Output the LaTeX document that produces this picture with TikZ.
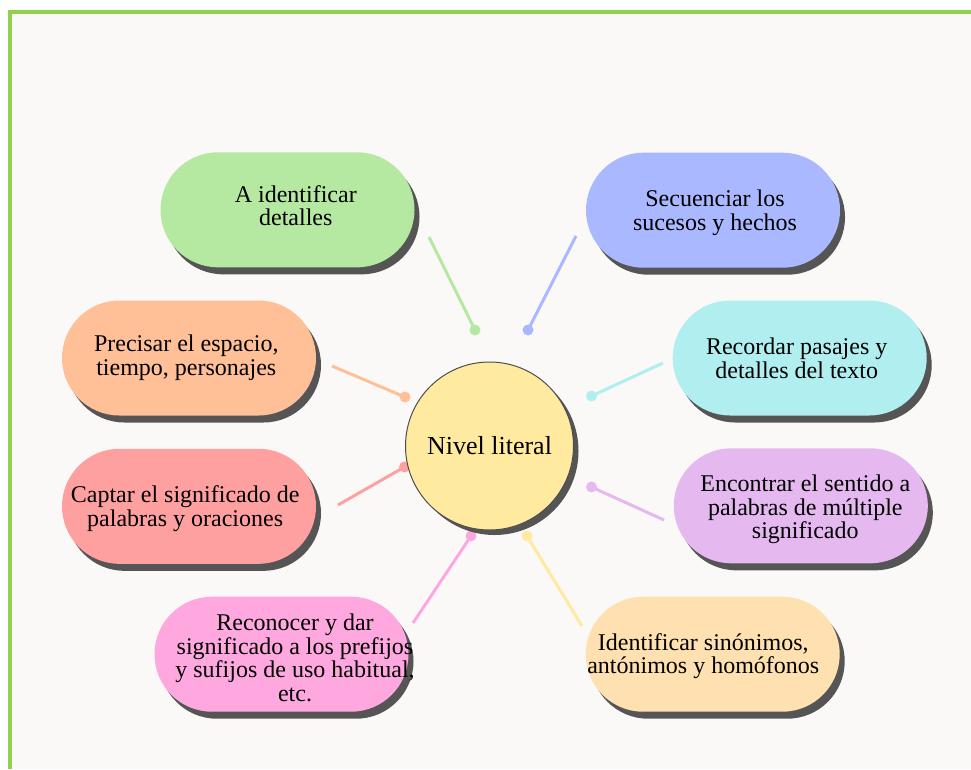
\documentclass[tikz,border=0pt]{standalone}
\usepackage{fontspec}
\setmainfont{Liberation Serif}
\usetikzlibrary{shadows}
\definecolor{bgc}{HTML}{FAF9F8}
\definecolor{framec}{HTML}{92D050}
\definecolor{shadowc}{HTML}{555555}
\definecolor{cgreen}{HTML}{B5E8A0}
\definecolor{cblue}{HTML}{AAB9FF}
\definecolor{corange}{HTML}{FFC098}
\definecolor{ccyan}{HTML}{B0EEF0}
\definecolor{cred}{HTML}{FFA0A0}
\definecolor{cpurple}{HTML}{E5B8F0}
\definecolor{cpink}{HTML}{FFA8E0}
\definecolor{cpeach}{HTML}{FFE0B0}
\definecolor{cyellow}{HTML}{FFEAA0}
\definecolor{cline}{HTML}{4D4D4D}
\begin{document}
\begin{tikzpicture}[x=1pt,y=-1pt,
  stad/.style={rectangle, rounded corners=57.5pt, minimum width=254pt, minimum height=115pt, inner sep=0pt,
    drop shadow={shadow xshift=5pt, shadow yshift=-7pt, fill=shadowc, opacity=1}},
  lbl/.style={align=center, inner sep=0pt, font=\fontsize{24}{23.5}\selectfont},
  link/.style={line width=3pt},
  dotn/.style={circle, inner sep=0pt, minimum size=11pt},
  hub/.style={circle, minimum size=168pt, inner sep=0pt, fill=cyellow, draw=cline, line width=1pt,
    font=\fontsize{26}{28}\selectfont,
    drop shadow={shadow xshift=5pt, shadow yshift=-5pt, fill=shadowc, opacity=1}}
]
\useasboundingbox (0,0) rectangle (971,769);
\fill[white] (0,0) rectangle (971,769);
\fill[bgc] (8,10) rectangle (971,769);
\draw[framec, line width=3.5pt] (10,769) -- (10,12) -- (971,12);

% connector endpoints
\coordinate (sg) at (429,237);
\coordinate (sb) at (576,236);
\coordinate (so) at (332,366);
\coordinate (sc) at (663,363);
\coordinate (sr) at (338,505);
\coordinate (sp) at (664,520);
\coordinate (spk) at (413,623);
\coordinate (sy) at (582,626);

\node[dotn, fill=cgreen] (dg) at (475,330) {};
\node[dotn, fill=cblue] (db) at (528,330) {};
\node[dotn, fill=corange] (do) at (405,397) {};
\node[dotn, fill=ccyan] (dc) at (591.5,396) {};
\node[dotn, fill=cred] (dr) at (404.5,467) {};
\node[dotn, fill=cpurple] (dp) at (591.5,487) {};
\node[dotn, fill=cpink] (dpk) at (471,536) {};
\node[dotn, fill=cyellow] (dy) at (527,536) {};

\draw[link, cgreen] (sg) -- (dg.center);
\draw[link, cblue] (sb) -- (db.center);
\draw[link, corange] (so) -- (do.center);
\draw[link, ccyan] (sc) -- (dc.center);
\draw[link, cred] (sr) -- (dr.center);
\draw[link, cpurple] (sp) -- (dp.center);
\draw[link, cpink] (spk) -- (dpk.center);
\draw[link, cyellow] (sy) -- (dy.center);

\node[hub] (hub) at (489.5,446) {Nivel literal};

% boxes
\node[stad, fill=cgreen] (bg) at (287.5,209.8) {};
\node[stad, fill=cblue] (bb) at (713,210.2) {};
\node[stad, fill=corange] (bo) at (189,358) {};
\node[stad, fill=ccyan] (bc) at (799.7,358) {};
\node[stad, fill=cred] (br) at (189,506.3) {};
\node[stad, fill=cpurple] (bp) at (800.8,505.8) {};
\node[stad, fill=cpink] (bpk) at (281.5,654.2) {};
\node[stad, fill=cpeach] (by) at (712.7,654.2) {};

% labels
\node[lbl] (tg) at (295.8,205.8) {A identificar\\detalles};
\node[lbl] (tb) at (715,212.7) {Secuenciar los\\sucesos y hechos};
\node[lbl] (to) at (186.3,357.8) {Precisar el espacio,\\tiempo, personajes};
\node[lbl] (tc) at (796.7,358.5) {Recordar pasajes y\\detalles del texto};
\node[lbl] (tr) at (185.2,508.7) {Captar el significado de\\palabras y oraciones};
\node[lbl] (tp) at (805.3,509.4) {Encontrar el sentido a\\palabras de múltiple\\significado};
\node[lbl] (tpk) at (295,657.6) {Reconocer y dar\\significado a los prefijos\\y sufijos de uso habitual,\\etc.};
\node[lbl] (ty) at (703.3,656) {Identificar sinónimos,\\antónimos y homófonos};
\end{tikzpicture}
\end{document}
